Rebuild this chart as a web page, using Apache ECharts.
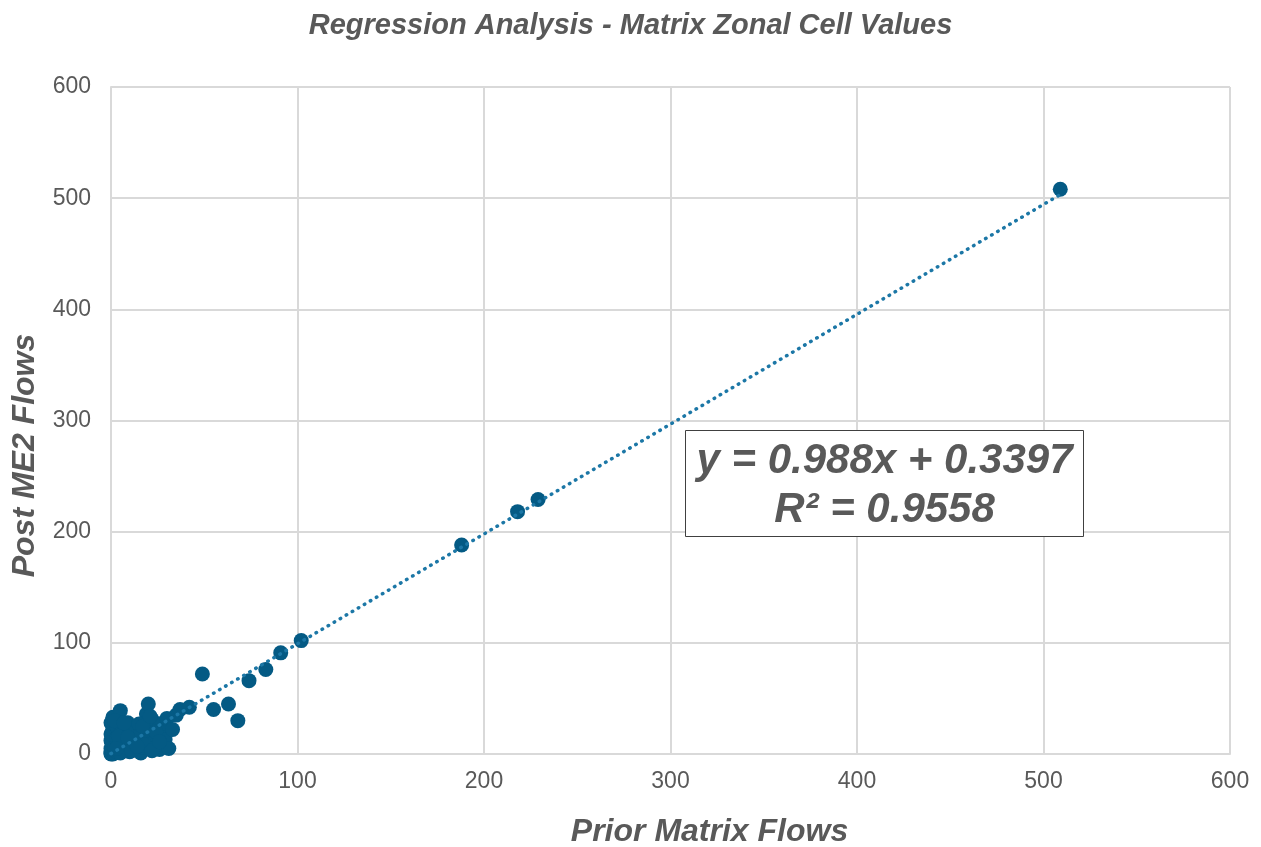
<!DOCTYPE html>
<html>
<head>
<meta charset="utf-8">
<script src="https://cdn.jsdelivr.net/npm/echarts@6/dist/echarts.min.js"></script>
<style>html,body{margin:0;padding:0;background:#fff}#c{width:1261px;height:847px}</style>
</head>
<body>
<div id="c"></div>
<script>
var titleText = 'Regression Analysis - Matrix Zonal Cell Values';
var xName = 'Prior Matrix Flows';
var yName = 'Post ME2 Flows';
var axisMin = 0, axisMax = 600, axisStep = 100;

// [prior, post] pairs
var clusterPoints = [
  [0,0],[0,1],[0,2],[1,0],[1,3],[0,5],[2,1],[1,8],[0,12],[2,6],[3,2],[0,18],[1,22],[0,28],[1,33],
  [5,39],[3,14],[4,8],[5,3],[6,12],[7,5],[8,18],[9,28],[10,2],[11,9],[12,15],[13,4],[14,22],[15,11],
  [16,1],[17,6],[18,14],[19,36],[19,28],[20,45],[20,20],[21,9],[22,31],[23,16],[24,12],[25,24],[26,4],
  [27,18],[28,28],[29,13],[30,32],[31,5],[33,22],[35,35],[37,40],[42,42],[3,25],[6,20],[2,30],[8,10],
  [10,22],[12,6],[4,16],[7,28],[13,12],[16,19],[18,8],[22,3],[15,27],[5,1],[3,5],[9,15],[11,3],[14,7],
  [17,25],[21,34],[24,20],[26,11]
];
var largePoints = [
  [49,72],[55,40],[63,45],[68,30],[74,66],[83,76],[91,91],[102,102],[188,188],[218,218],[229,229],[509,508]
];
var trendSlope = 0.988, trendIntercept = 0.3397, trendR2 = 0.9558;
var trendXRange = [0, 509];

var allPoints = clusterPoints.concat(largePoints);
var trendData = trendXRange.map(function(x){ return [x, trendSlope * x + trendIntercept]; });

var font = "'Liberation Sans', Arial, sans-serif";
var eqFont = "italic bold 42px 'Liberation Sans', Arial, sans-serif";
var grey = '#595959';
var chart = echarts.init(document.getElementById('c'));
chart.setOption({
  animation: false,
  backgroundColor: '#fff',
  title: {
    text: titleText, left: 'center', top: 6,
    textStyle: { fontFamily: font, fontSize: 29, fontWeight: 'bold', fontStyle: 'italic', color: grey }
  },
  grid: { left: 111, right: 31, top: 87, bottom: 93, containLabel: false, outerBoundsMode: 'none' },
  xAxis: {
    type: 'value', min: axisMin, max: axisMax, interval: axisStep,
    name: xName, nameLocation: 'middle', nameGap: 62,
    nameTextStyle: { fontFamily: font, fontSize: 32, fontWeight: 'bold', fontStyle: 'italic', color: grey,
      padding: [0, 0, 0, 78] },
    axisLine: { show: true, lineStyle: { color: '#d9d9d9', width: 2 } },
    axisTick: { show: false },
    splitLine: { show: true, lineStyle: { color: '#d9d9d9', width: 2 } },
    axisLabel: { fontFamily: font, fontSize: 23, color: grey, margin: 16 }
  },
  yAxis: {
    type: 'value', min: axisMin, max: axisMax, interval: axisStep,
    name: yName, nameLocation: 'middle', nameGap: 70, nameRotate: 90,
    nameTextStyle: { fontFamily: font, fontSize: 32, fontWeight: 'bold', fontStyle: 'italic', color: grey,
      padding: [0, 70, 0, 0] },
    axisLine: { show: true, lineStyle: { color: '#d9d9d9', width: 2 } },
    axisTick: { show: false },
    splitLine: { show: true, lineStyle: { color: '#d9d9d9', width: 2 } },
    axisLabel: { fontFamily: font, fontSize: 23, color: grey, margin: 20 }
  },
  series: [
    {
      type: 'scatter', data: allPoints, symbolSize: 15, z: 2,
      itemStyle: { color: '#045a84', opacity: 1 }
    },
    {
      type: 'line', data: trendData, symbol: 'none', z: 3,
      lineStyle: { color: '#1c77a6', width: 3.5, type: [0.5, 6.5], cap: 'round' }
    }
  ],
  graphic: [
    {
      type: 'group', left: 685, top: 430, z: 100,
      children: [
        { type: 'rect', z: 100, shape: { x: 0, y: 0, width: 398, height: 106 },
          style: { fill: '#fff', stroke: '#404040', lineWidth: 1 } },
        { type: 'text', z: 101, x: 199, y: 31,
          style: { text: 'y = ' + trendSlope + 'x + ' + trendIntercept, align: 'center', verticalAlign: 'middle',
            font: eqFont, fill: grey } },
        { type: 'text', z: 101, x: 199, y: 80,
          style: { text: 'R² = ' + trendR2, align: 'center', verticalAlign: 'middle',
            font: eqFont, fill: grey } }
      ]
    }
  ]
});
</script>
</body>
</html>
